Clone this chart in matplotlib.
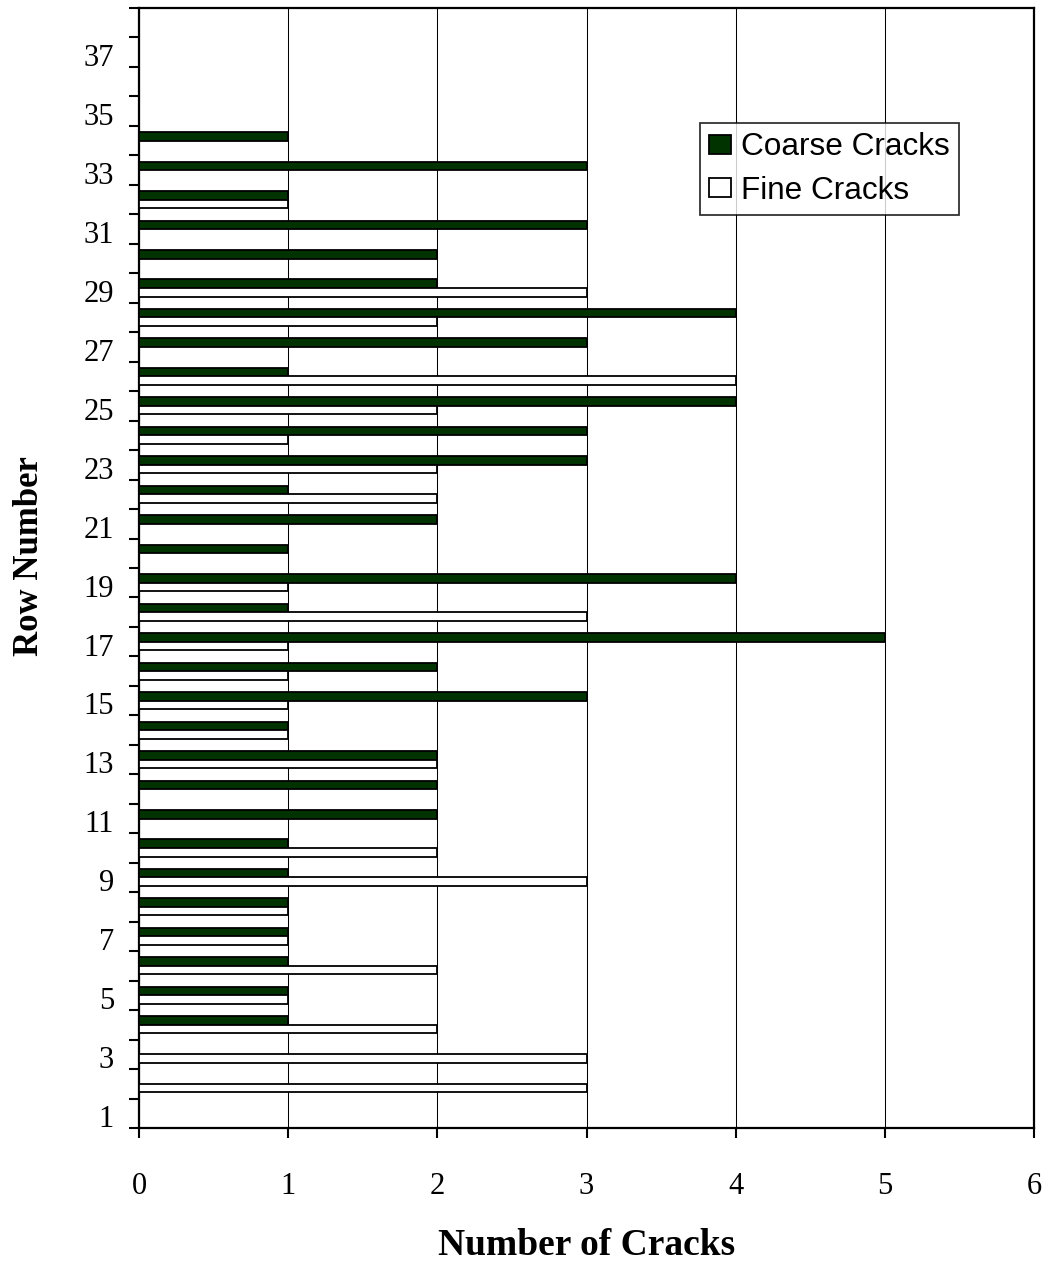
import numpy as np
import matplotlib
matplotlib.use("Agg")
import matplotlib.pyplot as plt
from matplotlib.ticker import FixedLocator, NullFormatter

# Crack counts per row (rows 1..38)
rows = list(range(1, 39))
coarse_cracks = [0, 0, 0, 1, 1, 1, 1, 1, 1, 1,
                 2, 2, 2, 1, 3, 2, 5, 1, 4, 1,
                 2, 1, 3, 3, 4, 1, 3, 4, 2, 2,
                 3, 1, 3, 1, 0, 0, 0, 0]
fine_cracks = [0, 3, 3, 2, 1, 2, 1, 1, 3, 2,
               0, 0, 2, 1, 1, 1, 1, 3, 1, 0,
               0, 2, 2, 1, 2, 4, 0, 2, 3, 0,
               0, 1, 0, 0, 0, 0, 0, 0]
x_ticks = [0, 1, 2, 3, 4, 5, 6]
y_tick_labels = [str(r) for r in range(1, 38, 2)]

serif = ["Liberation Serif", "DejaVu Serif"]
sans = ["Liberation Sans", "DejaVu Sans"]

fig = plt.figure(figsize=(10.49, 12.62), dpi=100)
ax = fig.add_axes([139 / 1049, 1 - 1128 / 1262, (1034 - 139) / 1049, (1128 - 8) / 1262])

y = np.array(rows, dtype=float)
coarse = np.array(coarse_cracks, dtype=float)
fine = np.array(fine_cracks, dtype=float)
bar_h = 0.29
# rows with no cracks get no bar at all
mc = coarse > 0
mf = fine > 0
ax.barh(y[mc] + bar_h / 2, coarse[mc], height=bar_h, color="#003300",
        edgecolor="black", linewidth=1.3, label="Coarse Cracks", zorder=3)
ax.barh(y[mf] - bar_h / 2, fine[mf], height=bar_h, color="white",
        edgecolor="black", linewidth=1.3, label="Fine Cracks", zorder=3)

ax.set_xlim(0, 6)
ax.set_ylim(0.5, 38.5)

# Vertical gridlines at each whole crack count
ax.set_xticks(x_ticks)
ax.set_xticklabels([str(t) for t in x_ticks], family=serif, fontsize=22)
ax.xaxis.grid(True, color="black", linewidth=0.75)
ax.set_axisbelow(True)
ax.tick_params(axis="x", direction="out", length=7.5, width=1.5, pad=24)

# Category ticks between rows, labels on odd rows (set on the row's lower edge)
ax.yaxis.set_minor_locator(FixedLocator(np.arange(0.5, 39, 1.0)))
ax.yaxis.set_minor_formatter(NullFormatter())
ax.set_yticks([int(s) - 0.47 for s in y_tick_labels])
ax.set_yticklabels(y_tick_labels, family=serif, fontsize=22)
ax.tick_params(axis="y", which="major", length=0, pad=18)
ax.tick_params(axis="y", which="minor", direction="out", length=7, width=1.5)
for lbl in ax.get_yticklabels():
    lbl.set_verticalalignment("baseline")

for side in ["left", "bottom", "top", "right"]:
    ax.spines[side].set_linewidth(1.6)
    ax.spines[side].set_color("black")

ax.set_xlabel("Number of Cracks", family=serif, fontsize=27, fontweight="bold",
              va="baseline")
ax.xaxis.set_label_coords(0.5, -0.1134)
ax.set_ylabel("Row Number", family=serif, fontsize=25, fontweight="bold",
              va="baseline")
ax.yaxis.set_label_coords(-0.1128, 0.511)

leg = ax.legend(loc="upper left", bbox_to_anchor=(700 / 1049, 1 - 123 / 1262),
                bbox_transform=fig.transFigure, prop={"family": sans, "size": 22.7},
                frameon=True, fancybox=False, borderpad=0.3, labelspacing=0.42,
                handlelength=0.67, handleheight=0.57, handletextpad=0.32,
                borderaxespad=0)
leg.get_frame().set_edgecolor("black")
leg.get_frame().set_linewidth(1.3)

fig.savefig("out.png", dpi=100, facecolor="white")
